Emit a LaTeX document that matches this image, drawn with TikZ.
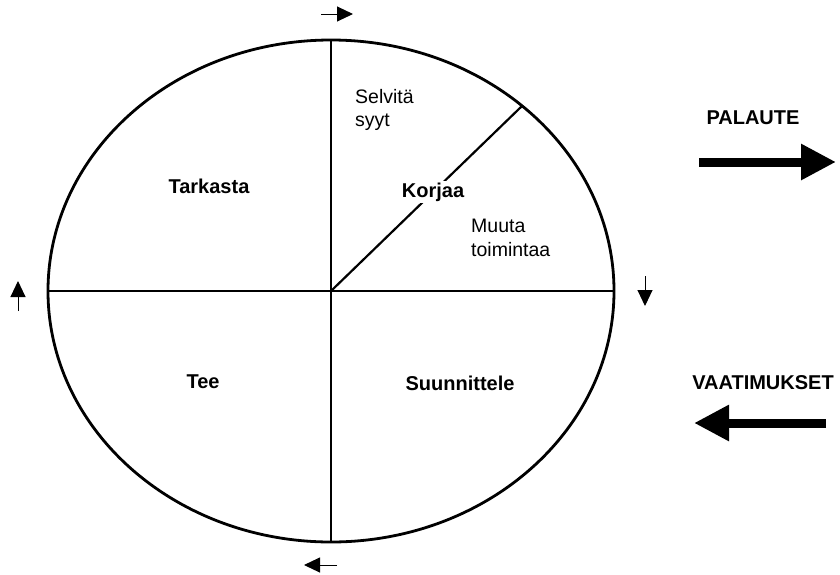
\documentclass[tikz,border=0pt]{standalone}
\usepackage{fontspec}
\setmainfont{Liberation Sans}
\usetikzlibrary{arrows.meta}
\begin{document}
\begin{tikzpicture}[x=1pt,y=-1pt,
  rim/.style={line width=2.8pt},
  divider/.style={line width=2.2pt},
  boldlbl/.style={font=\fontsize{20}{23}\selectfont\bfseries, inner sep=1.5pt},
  plainlbl/.style={font=\fontsize{19.5}{23.5}\selectfont, align=left, inner sep=0pt, anchor=north west},
  smallarrow/.style={line width=1pt, -{Triangle[length=16pt,width=15pt]}},
  bigarrow/.style={line width=9pt, -{Triangle[length=35pt,width=34pt]}}]
\useasboundingbox (0,0) rectangle (840,574);
\coordinate (c) at (331,291);
\coordinate (top) at (331,40);
\coordinate (bot) at (331,542);
\coordinate (lft) at (48,291);
\coordinate (rgt) at (614,291);
\coordinate (dg) at (522,106);
\draw[rim] (c) ellipse [x radius=283, y radius=251];
\draw[divider] (top) -- (bot);
\draw[divider] (lft) -- (rgt);
\draw[divider] (c) -- (dg);
\node[boldlbl, fill=white] (korjaa) at (433,192) {Korjaa};
\node[boldlbl] (tarkasta) at (209,186) {Tarkasta};
\node[boldlbl] (tee) at (203,382) {Tee};
\node[boldlbl] (suunn) at (460,383) {Suunnittele};
\node[plainlbl] (selvita) at (355,89) {Selvitä\\syyt};
\node[plainlbl] (muuta) at (471,219) {Muuta\\toimintaa};
\node[boldlbl] (palaute) at (753,118) {PALAUTE};
\node[boldlbl] (vaat) at (763,383) {VAATIMUKSET};
% small rotation arrows
\coordinate (ta1) at (321,14); \coordinate (ta2) at (353,14);
\coordinate (ra1) at (645,276); \coordinate (ra2) at (645,306);
\coordinate (ba1) at (337,565); \coordinate (ba2) at (304,565);
\coordinate (la1) at (18,311); \coordinate (la2) at (18,281);
\draw[smallarrow] (ta1) -- (ta2);
\draw[smallarrow] (ra1) -- (ra2);
\draw[smallarrow] (ba1) -- (ba2);
\draw[smallarrow] (la1) -- (la2);
% big arrows
\coordinate (pa1) at (699,162); \coordinate (pa2) at (836,162);
\coordinate (va1) at (826,423); \coordinate (va2) at (694,423);
\draw[bigarrow] (pa1) -- (pa2);
\draw[bigarrow] (va1) -- (va2);
\end{tikzpicture}
\end{document}
